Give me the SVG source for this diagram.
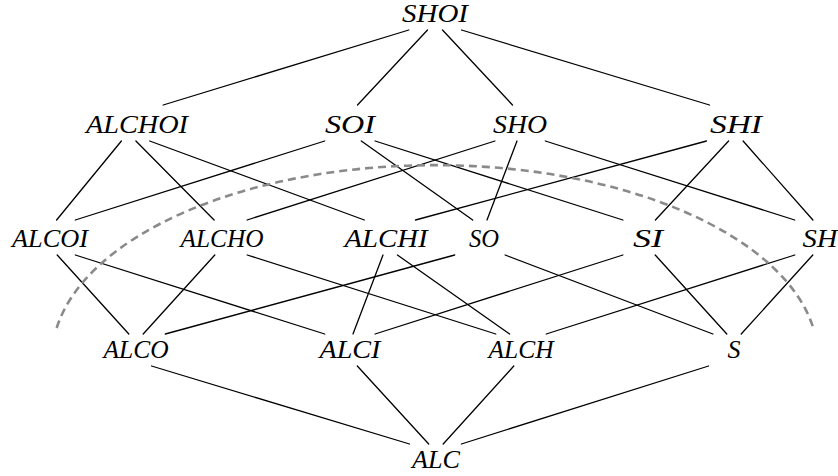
<svg xmlns="http://www.w3.org/2000/svg" width="838" height="476" viewBox="0 0 838 476">
<style>
.lbl{font-family:"Liberation Serif","DejaVu Serif",serif;font-style:italic;font-size:26px;fill:#000;text-anchor:middle}
.e{stroke:#000;stroke-width:1.3;fill:none;stroke-linecap:round}
.arc{stroke:#8a8a8a;stroke-width:2.6;fill:none;stroke-dasharray:8 5}
</style>
<rect width="838" height="476" fill="#fff"/>
<g id="connectors">
<line class="e" x1="408.8" y1="30" x2="163.2" y2="105"/>
<line class="e" x1="427.5" y1="30" x2="357.5" y2="105"/>
<line class="e" x1="442.5" y1="30" x2="512.5" y2="105"/>
<line class="e" x1="461.5" y1="30" x2="709.5" y2="105"/>
<line class="e" x1="121.4" y1="141" x2="56.6" y2="220"/>
<line class="e" x1="135.9" y1="141" x2="214.1" y2="220"/>
<line class="e" x1="149.7" y1="141" x2="364.3" y2="220"/>
<line class="e" x1="324.7" y1="141" x2="75.3" y2="220"/>
<line class="e" x1="361.3" y1="141" x2="472.7" y2="220"/>
<line class="e" x1="375.1" y1="141" x2="622.9" y2="220"/>
<line class="e" x1="494.9" y1="141" x2="247.1" y2="220"/>
<line class="e" x1="517.0" y1="141" x2="487.0" y2="220"/>
<line class="e" x1="545.3" y1="141" x2="794.7" y2="220"/>
<line class="e" x1="706.5" y1="141" x2="415.5" y2="220"/>
<line class="e" x1="728.6" y1="141" x2="655.4" y2="220"/>
<line class="e" x1="743.1" y1="141" x2="812.9" y2="220"/>
<line class="e" x1="57.2" y1="255" x2="128.8" y2="334"/>
<line class="e" x1="75.3" y1="255" x2="324.7" y2="334"/>
<line class="e" x1="214.8" y1="255" x2="143.2" y2="334"/>
<line class="e" x1="247.2" y1="255" x2="495.8" y2="334"/>
<line class="e" x1="383.0" y1="255" x2="353.0" y2="334"/>
<line class="e" x1="397.4" y1="255" x2="509.6" y2="334"/>
<line class="e" x1="454.7" y1="255" x2="165.3" y2="334"/>
<line class="e" x1="505.1" y1="255" x2="712.9" y2="334"/>
<line class="e" x1="622.9" y1="255" x2="375.1" y2="334"/>
<line class="e" x1="655.2" y1="255" x2="726.8" y2="334"/>
<line class="e" x1="794.8" y1="255" x2="546.2" y2="334"/>
<line class="e" x1="812.8" y1="255" x2="741.2" y2="334"/>
<line class="e" x1="151.5" y1="366" x2="409.5" y2="444"/>
<line class="e" x1="357.3" y1="366" x2="428.7" y2="444"/>
<line class="e" x1="513.8" y1="366" x2="443.2" y2="444"/>
<line class="e" x1="708.6" y1="366" x2="461.4" y2="444"/>
</g>
<path id="boundary" class="arc" d="M 56.7 328 A 383 193 0 0 1 813.3 328"/>
<g id="n-SHOI"><text class="lbl" x="435" y="22" textLength="66" lengthAdjust="spacingAndGlyphs">SHOI</text></g>
<g id="n-ALCHOI"><text class="lbl" x="137" y="133" textLength="102" lengthAdjust="spacingAndGlyphs">ALCHOI</text></g>
<g id="n-SOI"><text class="lbl" x="350" y="133" textLength="50" lengthAdjust="spacingAndGlyphs">SOI</text></g>
<g id="n-SHO"><text class="lbl" x="520" y="133" textLength="54" lengthAdjust="spacingAndGlyphs">SHO</text></g>
<g id="n-SHI"><text class="lbl" x="736" y="133" textLength="52" lengthAdjust="spacingAndGlyphs">SHI</text></g>
<g id="n-ALCOI"><text class="lbl" x="50" y="247" textLength="76" lengthAdjust="spacingAndGlyphs">ALCOI</text></g>
<g id="n-ALCHO"><text class="lbl" x="222" y="247" textLength="83" lengthAdjust="spacingAndGlyphs">ALCHO</text></g>
<g id="n-ALCHI"><text class="lbl" x="386" y="247" textLength="83" lengthAdjust="spacingAndGlyphs">ALCHI</text></g>
<g id="n-SO"><text class="lbl" x="484" y="247" textLength="30" lengthAdjust="spacingAndGlyphs">SO</text></g>
<g id="n-SI"><text class="lbl" x="648" y="247" textLength="30" lengthAdjust="spacingAndGlyphs">SI</text></g>
<g id="n-SH"><text class="lbl" x="820" y="247" textLength="35" lengthAdjust="spacingAndGlyphs">SH</text></g>
<g id="n-ALCO"><text class="lbl" x="136" y="358" textLength="65" lengthAdjust="spacingAndGlyphs">ALCO</text></g>
<g id="n-ALCI"><text class="lbl" x="350" y="358" textLength="61" lengthAdjust="spacingAndGlyphs">ALCI</text></g>
<g id="n-ALCH"><text class="lbl" x="521" y="358" textLength="65" lengthAdjust="spacingAndGlyphs">ALCH</text></g>
<g id="n-S"><text class="lbl" x="734" y="358">S</text></g>
<g id="n-ALC"><text class="lbl" x="436" y="468" textLength="48" lengthAdjust="spacingAndGlyphs">ALC</text></g>
</svg>
